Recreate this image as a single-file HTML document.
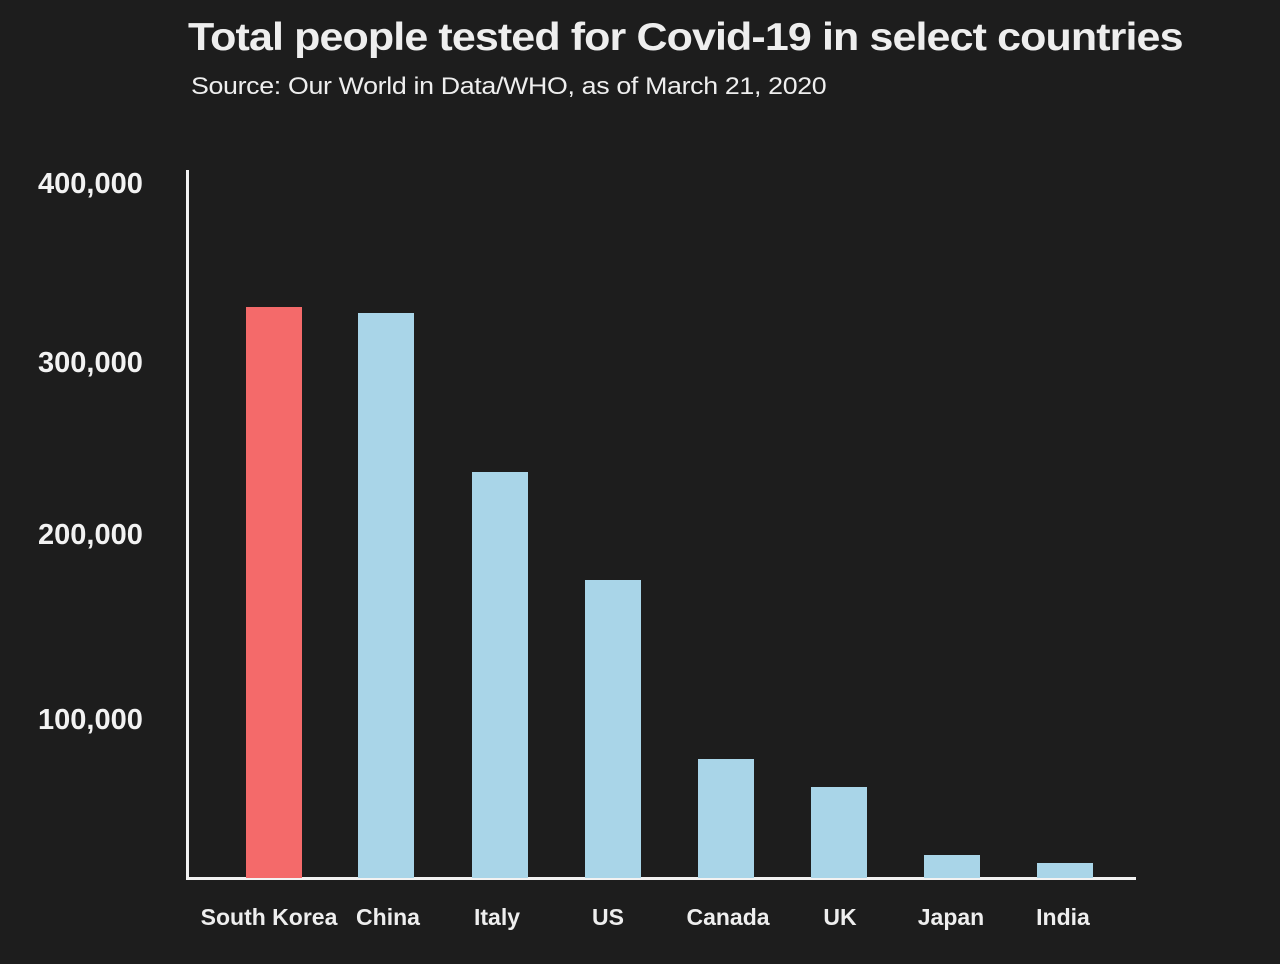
<!DOCTYPE html>
<html><head><meta charset="utf-8"><style>
html,body{margin:0;padding:0;}
body{width:1280px;height:964px;background:#1d1d1d;position:relative;overflow:hidden;font-family:"Liberation Sans",sans-serif;color:#fff;}
.t{position:absolute;white-space:nowrap;transform-origin:0 0;}
.bar{position:absolute;width:56px;bottom:86px;}
.lab{position:absolute;top:904px;width:140px;text-align:center;font-weight:bold;font-size:23px;color:#eee;}
.tick{position:absolute;left:38px;font-weight:bold;font-size:29px;color:#f2f2f2;}
</style></head><body>
<div class="t" style="left:188px;top:16px;font-size:39px;font-weight:bold;letter-spacing:-0.8px;color:#eee;transform:scaleX(1.102);">Total people tested for Covid-19 in select countries</div>
<div class="t" style="left:191px;top:73px;font-size:24px;color:#eee;letter-spacing:-0.3px;transform:scaleX(1.115);">Source: Our World in Data/WHO, as of March 21, 2020</div>
<div class="tick" style="top:168px">400,000</div>
<div class="tick" style="top:347px">300,000</div>
<div class="tick" style="top:519px">200,000</div>
<div class="tick" style="top:704px">100,000</div>
<div style="position:absolute;left:186px;top:170px;width:3px;height:710px;background:#f2f2f2"></div>
<div style="position:absolute;left:186px;top:877px;width:950px;height:3px;background:#f2f2f2"></div>
<div class="bar" style="left:246px;top:307px;background:#f46a6a"></div>
<div class="bar" style="left:358px;top:313px;background:#a9d5e8"></div>
<div class="bar" style="left:472px;top:472px;background:#a9d5e8"></div>
<div class="bar" style="left:585px;top:580px;background:#a9d5e8"></div>
<div class="bar" style="left:698px;top:759px;background:#a9d5e8"></div>
<div class="bar" style="left:811px;top:787px;background:#a9d5e8"></div>
<div class="bar" style="left:924px;top:855px;background:#a9d5e8"></div>
<div class="bar" style="left:1037px;top:863px;background:#a9d5e8"></div>
<div class="lab" style="left:199px">South Korea</div>
<div class="lab" style="left:318px">China</div>
<div class="lab" style="left:427px">Italy</div>
<div class="lab" style="left:538px">US</div>
<div class="lab" style="left:658px">Canada</div>
<div class="lab" style="left:770px">UK</div>
<div class="lab" style="left:881px">Japan</div>
<div class="lab" style="left:993px">India</div>
</body></html>
